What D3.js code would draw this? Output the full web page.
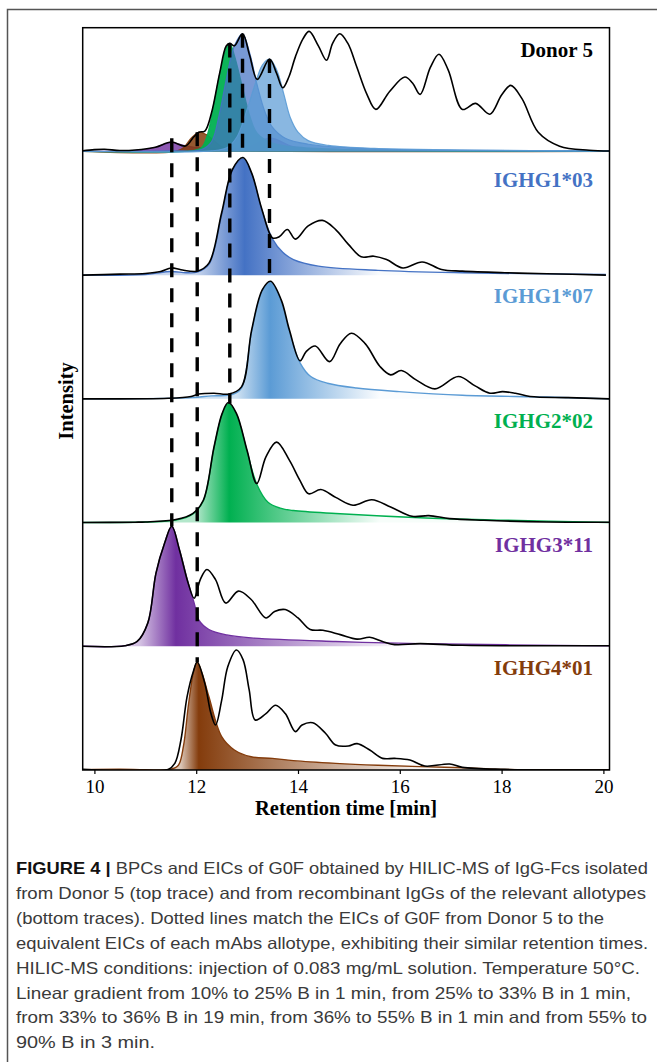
<!DOCTYPE html>
<html>
<head>
<meta charset="utf-8">
<script src="https://cdn.jsdelivr.net/npm/d3@7"></script>
<style>
  body { margin: 0; background: #fff; }
  svg { display: block; }
</style>
</head>
<body>
<svg id="chart" width="657" height="1062"></svg>
<script>
// retention time [min], relative intensity (0-100 inside each trace box)

// Donor 5: base peak chromatogram + EICs of G0F per allotype
const donorBPC = [[9.77,0.5],[10.0,1.5],[10.2,1.8],[10.5,0.8],[10.8,1.2],[11.2,3.5],[11.51,7.8],[11.79,4.5],[11.95,12],[12.05,16],[12.17,17],[12.3,32],[12.46,65],[12.59,87.8],[12.66,90],[12.75,88],[12.91,98],[13.05,80],[13.2,60],[13.44,77],[13.58,65],[13.7,53],[13.82,62],[13.95,79],[14.1,94],[14.22,100],[14.4,88],[14.56,76],[14.68,90],[14.82,98],[14.98,90],[15.15,71],[15.35,48],[15.53,35],[15.8,50],[16.1,62],[16.25,57],[16.4,47.5],[16.6,70],[16.77,81],[16.95,68],[17.23,35],[17.49,40],[17.77,31],[18.0,47],[18.18,55],[18.4,44],[18.72,16],[19.14,4.4],[19.72,1],[20.12,0.3]];
const donorG3 = [[9.77,0],[10.5,0.3],[10.9,1],[11.2,3.5],[11.52,7.5],[11.75,5],[12.0,3.2],[12.3,2.8],[12.6,2],[13.0,3],[13.45,11],[13.9,4],[14.4,1.5],[15.5,0.6],[20.12,0]];
const donorG4 = [[9.77,0],[11.6,0],[11.75,3],[11.9,11],[12.05,16],[12.2,14],[12.35,9],[12.5,4],[12.7,1.5],[13.2,0.5],[20.12,0]];
const donorG2 = [[9.77,0],[11.9,0.5],[12.1,3],[12.22,14],[12.35,40],[12.48,68],[12.6,87],[12.66,90],[12.75,80],[12.9,55],[13.05,30],[13.2,15],[13.5,7],[14.0,3.5],[15.0,1.5],[20.12,0]];
const donorG1_03 = [[9.77,0],[11.5,0.5],[12.1,1.5],[12.3,8],[12.45,30],[12.6,62],[12.75,88],[12.91,98],[13.05,82],[13.2,55],[13.35,33],[13.5,20],[13.75,11],[14.2,6],[15.0,3],[16.0,1.5],[20.12,0.5]];
const donorG1_07 = [[9.77,0],[12.3,0.5],[12.6,3],[12.8,12],[13.0,35],[13.15,55],[13.3,72],[13.44,77],[13.58,68],[13.72,48],[13.85,28],[14.0,16],[14.2,9],[14.6,5],[15.5,2.5],[20.12,0.5]];

// recombinant mAbs: BPC (black) and G0F EIC (coloured)
const bpcG1_03 = [[9.77,0],[10.5,0.8],[11.0,1.4],[11.3,3],[11.51,6],[11.7,4.5],[12.02,3.3],[12.25,10],[12.5,52],[12.71,88],[12.92,98],[13.09,85],[13.29,55],[13.5,31],[13.63,32],[13.79,38],[13.95,30],[14.2,41],[14.48,45.6],[14.74,38],[14.99,25.6],[15.24,15.3],[15.49,15.8],[15.74,13],[16.06,6],[16.44,11],[16.82,4.7],[17.23,3.3],[18.06,2],[18.89,1.2],[20.05,0]];
const eicG1_03 = [[9.77,0],[11.0,0.5],[11.5,3],[11.8,2],[12.02,2.5],[12.25,9],[12.5,50],[12.71,87],[12.92,97],[13.09,84],[13.29,54],[13.5,30],[13.7,19],[13.91,13],[14.4,7.5],[15.57,4],[17.23,2],[20.05,0.5]];

const bpcG1_07 = [[9.77,0],[11.45,0.5],[11.9,2],[12.05,4],[12.35,4.7],[12.64,4],[12.89,10],[13.09,57.5],[13.3,91],[13.46,98],[13.67,82.5],[13.83,57.5],[14.04,31.7],[14.16,39.4],[14.34,44],[14.62,31],[14.83,46],[15.05,54.7],[15.32,46],[15.61,27],[15.82,20],[16.03,23.6],[16.32,15.8],[16.69,8.3],[17.15,18.6],[17.48,10.8],[17.77,4.7],[18.02,6],[18.27,4.7],[18.56,2],[19.31,1],[20.12,0]];
const eicG1_07 = [[9.77,0],[11.9,1],[12.3,2.5],[12.7,3.5],[12.89,9],[13.09,56],[13.3,90],[13.46,97],[13.67,81],[13.83,56],[14.04,30],[14.25,18.6],[14.58,13],[15.15,9],[15.99,6],[17.23,3],[18.9,1.5],[20.12,0]];

const bpcG2_02 = [[9.77,0],[10.8,0.3],[11.0,0.5],[11.6,2.5],[11.93,7.5],[12.14,18.6],[12.35,63],[12.51,91],[12.63,100],[12.79,91],[13.0,60],[13.19,32.5],[13.37,54.7],[13.58,67],[13.83,52],[14.04,35],[14.21,24],[14.45,27.5],[14.74,21],[15.08,14.4],[15.45,19],[15.82,13],[16.24,5.2],[16.57,5.8],[16.98,3.3],[17.65,1.9],[18.89,0.5],[20.12,0.3]];
const eicG2_02 = [[9.77,0],[11.0,0.5],[11.6,2],[11.93,7],[12.14,18],[12.35,62],[12.51,90],[12.63,99],[12.79,90],[13.0,59],[13.19,32],[13.41,17],[13.65,12],[13.91,10],[14.74,7.5],[16.4,4],[18.06,2],[20.12,0]];

const bpcG3_11 = [[9.77,0],[10.6,0.5],[10.84,4],[11.05,19.5],[11.21,61],[11.38,86],[11.52,100],[11.67,80.5],[11.84,53],[11.96,40],[12.08,55.6],[12.21,64],[12.38,55.6],[12.58,36],[12.83,46],[13.08,39],[13.37,23.6],[13.54,29],[13.75,30.6],[14.0,23.6],[14.24,14],[14.49,13.3],[14.83,9.7],[15.16,6],[15.41,7.5],[15.66,4],[15.9,1.4],[16.4,2.2],[17.23,0.8],[20.12,0.5]];
const eicG3_11 = [[9.77,0],[10.6,0.5],[10.84,4],[11.05,19.5],[11.21,61],[11.38,86],[11.52,100],[11.67,80.5],[11.84,53],[11.96,36],[12.05,22],[12.25,14],[12.6,9.5],[13.08,7],[14.74,4],[16.4,2.2],[20.12,0.3]];

const bpcG4_01 = [[9.77,0.5],[11.45,0.5],[11.58,5.5],[11.7,25],[11.82,61],[11.95,83],[12.02,90],[12.17,72],[12.29,47],[12.38,37.5],[12.5,58],[12.62,86],[12.79,100],[12.92,92],[13.04,67],[13.16,41.7],[13.37,47],[13.56,54],[13.75,47],[13.95,32],[14.08,37.5],[14.29,39.4],[14.54,30.6],[14.74,20.8],[14.99,20],[15.16,22],[15.41,16.7],[15.66,9.7],[15.9,9.7],[16.2,8.3],[16.49,3.3],[16.98,5],[17.23,2.2],[18.06,0.5],[20.12,0]];
const eicG4_01 = [[9.77,0.3],[10.5,0.6],[11.0,0.3],[11.5,0.6],[11.65,4],[11.75,20],[11.85,55],[11.95,82],[12.02,90],[12.12,80],[12.25,61],[12.5,27.8],[12.75,16.7],[13.08,11],[13.5,9.7],[13.91,7.8],[14.74,5.5],[15.57,3.9],[16.4,2.8],[17.23,1.9],[18.06,0.5],[20.12,0.3]];

// colour ramp of each filled EIC: [fade-in, darkest, faded-out] retention time
const gradG1_03 = [12.0, 12.95, 15.6];
const gradG1_07 = [12.8, 13.45, 15.6];
const gradG2_02 = [12.0, 12.65, 15.6];
const gradG3_11 = [10.9, 11.6, 16.0];
const gradG4_01 = [11.7, 12.05, 16.5];

const panelNames = ['Donor 5', 'IGHG1*03', 'IGHG1*07', 'IGHG2*02', 'IGHG3*11', 'IGHG4*01'];
const panelColors = ['#000000', '#4472c4', '#5b9bd5', '#00b050', '#7030a0', '#843c0c'];
const xTicks = [10, 12, 14, 16, 18, 20];

// dotted guides: donor EIC apex -> matching allotype apex
const guideTimes = [11.52, 12.02, 12.66, 12.91, 13.44];
const guidePanels = [4, 5, 3, 1, 2];

const captionLines = [
    'BPCs and EICs of G0F obtained by HILIC-MS of IgG-Fcs isolated',
    'from Donor 5 (top trace) and from recombinant IgGs of the relevant allotypes',
    '(bottom traces). Dotted lines match the EICs of G0F from Donor 5 to the',
    'equivalent EICs of each mAbs allotype, exhibiting their similar retention times.',
    'HILIC-MS conditions: injection of 0.083 mg/mL solution. Temperature 50°C.',
    'Linear gradient from 10% to 25% B in 1 min, from 25% to 33% B in 1 min,',
    'from 33% to 36% B in 19 min, from 36% to 55% B in 1 min and from 55% to',
    '90% B in 3 min.'
];

// ---------------------------------------------------------------

const svg = d3.select('#chart');
const box = { left: 82.7, right: 609.5, top: 27.7, bottom: 770 };
const serif = '"Liberation Serif", "Times New Roman", serif';

const x = d3.scaleLinear().domain([9.77, 20.12]).range([box.left, box.right]);
const ph = (box.bottom - box.top) / panelNames.length;
const panelY = k => d3.scaleLinear()
    .domain([0, 100])
    .range([box.top + ph * (k + 1), box.top + ph * (k + 1) - 120]);

// rounded apexes like the recorded traces
const curve = d3.curveCatmullRom.alpha(0.5);
const line = y => d3.line().x(d => x(d[0])).y(d => Math.min(y(0), y(d[1]))).curve(curve);
const area = y => d3.area().x(d => x(d[0])).y0(y(0)).y1(d => y(d[1])).curve(curve);

// outer figure frame
svg.append('rect')
    .attr('x', 7.5).attr('y', 9.5)
    .attr('width', 700).attr('height', 1100)
    .attr('fill', 'none')
    .attr('stroke', '#555').attr('stroke-width', 1.5);

const defs = svg.append('defs');
defs.append('clipPath').attr('id', 'clip')
    .append('rect')
    .attr('x', box.left).attr('y', box.top)
    .attr('width', box.right - box.left).attr('height', box.bottom - box.top);

const allotypes = [
    { k: 1, bpc: bpcG1_03, eic: eicG1_03, grad: gradG1_03 },
    { k: 2, bpc: bpcG1_07, eic: eicG1_07, grad: gradG1_07 },
    { k: 3, bpc: bpcG2_02, eic: eicG2_02, grad: gradG2_02 },
    { k: 4, bpc: bpcG3_11, eic: eicG3_11, grad: gradG3_11 },
    { k: 5, bpc: bpcG4_01, eic: eicG4_01, grad: gradG4_01 }
];

allotypes.forEach(a => {
    const col = panelColors[a.k];
    const x1 = x(a.grad[0]), x2 = x(a.grad[2]);
    const pk = (x(a.grad[1]) - x1) / (x2 - x1);
    const mix = t => d3.interpolateRgb(col, '#ffffff')(t);
    const g = defs.append('linearGradient')
        .attr('id', `grad${a.k}`)
        .attr('gradientUnits', 'userSpaceOnUse')
        .attr('x1', x1).attr('x2', x2).attr('y1', 0).attr('y2', 0);
    [[0, mix(0.7)], [pk, col], [pk + (1 - pk) * 0.3, mix(0.3)], [1, mix(0.97)]]
        .forEach(s => g.append('stop').attr('offset', s[0]).attr('stop-color', s[1]));
});

const traces = svg.append('g').attr('clip-path', 'url(#clip)');

// donor panel: overlaid EICs then the BPC
const y0 = panelY(0);
const donorEICs = [
    { data: donorG3, color: panelColors[4], op: 0.8 },
    { data: donorG4, color: panelColors[5], op: 0.85 },
    { data: donorG2, color: panelColors[3], op: 0.95 },
    { data: donorG1_03, color: panelColors[1], op: 0.72 },
    { data: donorG1_07, color: panelColors[2], op: 0.72 }
];
donorEICs.forEach(e => {
    traces.append('path')
        .attr('d', area(y0)(e.data))
        .attr('fill', e.color).attr('fill-opacity', e.op);
    traces.append('path')
        .attr('d', line(y0)(e.data))
        .attr('fill', 'none')
        .attr('stroke', e.color).attr('stroke-width', 1.2).attr('stroke-opacity', 0.9);
});
traces.append('path')
    .attr('d', line(y0)(donorBPC))
    .attr('fill', 'none')
    .attr('stroke', '#000').attr('stroke-width', 1.6);

// allotype panels
allotypes.forEach(a => {
    const y = panelY(a.k);
    traces.append('path')
        .attr('d', area(y)(a.eic))
        .attr('fill', `url(#grad${a.k})`);
    traces.append('path')
        .attr('d', line(y)(a.eic))
        .attr('fill', 'none')
        .attr('stroke', panelColors[a.k]).attr('stroke-width', 1.4);
    traces.append('path')
        .attr('d', line(y)(a.bpc))
        .attr('fill', 'none')
        .attr('stroke', '#000').attr('stroke-width', 1.6);
});

// dotted guides
const donorMax = [donorG3, donorG4, donorG2, donorG1_03, donorG1_07].map(d => d3.max(d, p => p[1]));
const allotypeMax = { 1: d3.max(eicG1_03, p => p[1]), 2: d3.max(eicG1_07, p => p[1]),
    3: d3.max(eicG2_02, p => p[1]), 4: d3.max(eicG3_11, p => p[1]), 5: d3.max(eicG4_01, p => p[1]) };
guideTimes.forEach((t, i) => {
    const k = guidePanels[i];
    svg.append('line')
        .attr('x1', x(t)).attr('x2', x(t))
        .attr('y1', y0(donorMax[i])).attr('y2', panelY(k)(allotypeMax[k]))
        .attr('stroke', '#000').attr('stroke-width', 3.4)
        .attr('stroke-dasharray', '14,11');
});

// trace labels
const labelDy = [29, 36, 28, 29, 29, 29];
panelNames.forEach((n, k) => {
    svg.append('text')
        .attr('x', 593)
        .attr('y', box.top + ph * k + labelDy[k])
        .attr('text-anchor', 'end')
        .attr('font-family', serif).attr('font-weight', 'bold').attr('font-size', 21)
        .attr('fill', panelColors[k])
        .text(n);
});

// box + axis
svg.append('rect')
    .attr('x', box.left).attr('y', box.top)
    .attr('width', box.right - box.left).attr('height', box.bottom - box.top)
    .attr('fill', 'none').attr('stroke', '#000').attr('stroke-width', 1.5);

const ax = svg.append('g')
    .attr('transform', `translate(0,${box.bottom})`)
    .call(d3.axisBottom(x).tickValues(xTicks).tickSize(4).tickPadding(6).tickFormat(d3.format('d')));
ax.select('.domain').remove();
ax.selectAll('line').attr('stroke-width', 1.2);
ax.selectAll('text')
    .attr('font-family', serif).attr('font-size', 19).attr('fill', '#000');

svg.append('text')
    .attr('x', (box.left + box.right) / 2).attr('y', 815)
    .attr('text-anchor', 'middle')
    .attr('font-family', serif).attr('font-weight', 'bold').attr('font-size', 20.5)
    .text('Retention time [min]');

svg.append('text')
    .attr('transform', 'translate(73,401) rotate(-90)')
    .attr('text-anchor', 'middle')
    .attr('font-family', serif).attr('font-weight', 'bold').attr('font-size', 20.5)
    .text('Intensity');

// caption
const lineEnds = [648, 646, 604, 648, 640, 631, 647, 155];
const cap = svg.append('g')
    .attr('font-family', '"Liberation Sans", Arial, sans-serif')
    .attr('font-size', 16.5)
    .attr('fill', '#3a3a3a');
captionLines.forEach((s, i) => {
    const t = cap.append('text')
        .attr('x', 16).attr('y', 874 + i * 24.9)
        .attr('textLength', lineEnds[i] - 16)
        .attr('lengthAdjust', 'spacingAndGlyphs');
    if (i === 0) {
        t.append('tspan').attr('font-weight', 'bold').attr('fill', '#111').text('FIGURE 4 | ');
    }
    t.append('tspan').text(s);
});
</script>
</body>
</html>
